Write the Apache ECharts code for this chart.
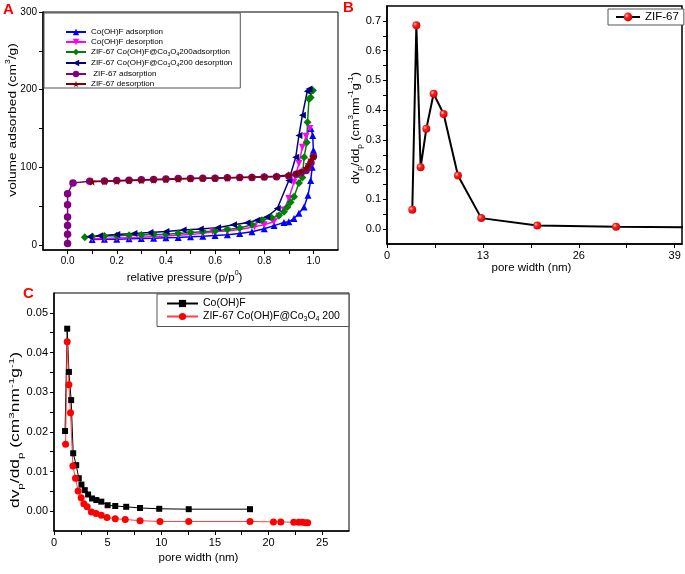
<!DOCTYPE html>
<html><head><meta charset="utf-8">
<script src="https://cdn.jsdelivr.net/npm/echarts@6/dist/echarts.min.js"></script>
<style>html,body{margin:0;padding:0;background:#fff;}#c{width:685px;height:574px;}</style>
</head><body><div id="c"></div>
<script>
// ---------- Panel A: isotherms (relative pressure p/p0, volume cm3/g) ----------
const aCoohfAdsP = [0.1,0.15,0.2,0.25,0.3,0.35,0.4,0.45,0.5,0.55,0.6,0.65,0.7,0.75,0.8,0.84,0.88,0.9,0.921,0.941,0.962,0.978,0.989,0.995,1.0,0.997,0.99];
const aCoohfAdsV = [7,7.3,7.6,8,8.4,8.8,9.3,9.8,10.5,11.3,12.2,13.3,14.8,17,21,25,29,30,34,41,49,64,83,100,122,141,150];
const aCoohfDesP = [0.985,0.97,0.955,0.941,0.921,0.9,0.88,0.86,0.839,0.8,0.76,0.7,0.65,0.59,0.55,0.5,0.45,0.4,0.35,0.3,0.25,0.2,0.15,0.1];
const aCoohfDesV = [150,140,126,105,81,60,45,37,30,26,23.5,20,18,17,15,13.5,12.5,11.5,11,10,9.5,9,8.5,8];
const aCompAdsP = [0.07,0.1,0.15,0.2,0.25,0.3,0.35,0.4,0.45,0.5,0.55,0.6,0.65,0.7,0.75,0.79,0.83,0.86,0.88,0.894,0.907,0.921,0.941,0.955,0.962,0.973,0.976,0.982,0.989,0.998];
const aCompAdsV = [10,11,11.5,12,12.5,13,13.5,14,15,16,17,18,20,22,26,32,35,38,43,49,55,62,80,87,113,132,158,188,190,199];
const aCompDesP = [0.982,0.975,0.955,0.941,0.928,0.9,0.853,0.81,0.77,0.73,0.675,0.61,0.54,0.47,0.4,0.335,0.27,0.2,0.13,0.09];
const aCompDesV = [201,198,167,141,113,83,47,36,32,28.6,26,22.2,20.5,19.2,17.5,16.2,15,13.7,12,10.6];
const aZifAdsP = [0,0,0,0,0,0,0.022,0.09,0.15,0.2,0.25,0.3,0.35,0.4,0.45,0.5,0.55,0.6,0.65,0.7,0.75,0.8,0.85,0.9,0.93,0.95,0.97,0.98,0.99,1.0];
const aZifAdsV = [2,14,25,36,52,66,80,82,82.5,83,83.5,84,84.5,85,85.5,85.5,86,86,86.5,87,87,87.5,88,89,91,93,96,100,106,114];
const aZifDesP = [1.0,0.99,0.98,0.97,0.95,0.93,0.9,0.85,0.8,0.75,0.7,0.65,0.6,0.55,0.5,0.45,0.4,0.35,0.3,0.25,0.2,0.15,0.1];
const aZifDesV = [114,110,104,99,95,92,90,88.5,88,87.5,87,86.5,86,86,85.5,85,84.5,84,83.5,83,82.5,82,81.5];
const aXTicks = [0,0.1,0.2,0.3,0.4,0.5,0.6,0.7,0.8,0.9,1.0];
const aXLabels = [0,0.2,0.4,0.6,0.8,1.0];
const aYTicks = [0,50,100,150,200,250,300];
const aYLabels = [0,100,200,300];

// ---------- Panel B: ZIF-67 pore size distribution ----------
const bWidth = [3.43,3.98,4.56,5.33,6.32,7.68,9.62,12.78,20.37,31.06,45];
const bDv = [0.065,0.685,0.208,0.337,0.455,0.387,0.180,0.037,0.012,0.008,0.006];
const bXTicks = [0,6.5,13,19.5,26,32.5,39];
const bXLabels = [0,13,26,39];
const bYTicks = [0,0.05,0.1,0.15,0.2,0.25,0.3,0.35,0.4,0.45,0.5,0.55,0.6,0.65,0.7];
const bYLabels = [0,0.1,0.2,0.3,0.4,0.5,0.6,0.7];

// ---------- Panel C: pore size distributions ----------
const cCoohfW = [1.03,1.23,1.39,1.6,1.79,2.07,2.31,2.56,2.87,3.18,3.55,3.95,4.41,5.0,5.71,6.73,8.02,9.81,12.56,18.27];
const cCoohfDv = [0.0202,0.0460,0.0351,0.0280,0.0146,0.0116,0.0083,0.0067,0.0053,0.0042,0.0032,0.0028,0.0024,0.0015,0.0013,0.0011,0.0008,0.0006,0.0005,0.0005];
const cCompW = [1.08,1.23,1.39,1.54,1.76,2.0,2.25,2.53,2.78,3.09,3.49,3.92,4.41,4.94,5.71,6.64,8.02,9.88,12.56,18.27,20.46,21.14,22.35,22.8,23.15,23.45,23.65];
const cCompDv = [0.0169,0.0427,0.0319,0.0248,0.0114,0.0083,0.0051,0.0034,0.0019,0.0011,-0.0002,-0.0006,-0.0010,-0.0016,-0.0019,-0.0021,-0.0024,-0.0026,-0.0026,-0.0026,-0.0027,-0.0027,-0.0028,-0.0028,-0.0028,-0.0029,-0.0029];
const cXTicks = [0,2.5,5,7.5,10,12.5,15,17.5,20,22.5,25];
const cXLabels = [0,5,10,15,20,25];
const cYTicks = [0,0.005,0.01,0.015,0.02,0.025,0.03,0.035,0.04,0.045,0.05];
const cYLabels = [0,0.01,0.02,0.03,0.04,0.05];

const FF = 'Liberation Sans, Arial, sans-serif';
function pairs(xs, ys) { return xs.map((x, i) => [x, ys[i]]); }
function rich(s) {
  const sm = Math.round(s * 0.65);
  return {
    n: {fontSize: s, fontFamily: FF, color: '#000', lineHeight: s + 5},
    sup: {fontSize: sm, fontFamily: FF, color: '#000', verticalAlign: 'top'},
    sub: {fontSize: sm, fontFamily: FF, color: '#000', verticalAlign: 'bottom'}
  };
}
function axis(grid, min, max, ticks, labels, fmt, fs, extra) {
  return Object.assign({
    type: 'value', gridIndex: grid, min: min, max: max,
    axisLine: {show: true, onZero: false, lineStyle: {color: '#000', width: 1.5}},
    axisTick: {show: true, customValues: ticks, length: 4, lineStyle: {color: '#000', width: 1}},
    axisLabel: {customValues: labels, formatter: fmt, color: '#000', fontSize: fs, fontFamily: FF, margin: 6},
    splitLine: {show: false}
  }, extra || {});
}
const star = 'path://M0,-10L2.35,-3.24L9.51,-3.09L3.8,1.24L5.88,8.09L0,4L-5.88,8.09L-3.8,1.24L-9.51,-3.09L-2.35,-3.24Z';
function lineSer(name, x, y, grid, color, symbol, size, rot, lw) {
  return {
    type: 'line', name: name, xAxisIndex: grid, yAxisIndex: grid,
    data: pairs(x, y), symbol: symbol, symbolSize: size, symbolRotate: rot || 0,
    showSymbol: true, animation: false,
    lineStyle: {color: color, width: lw || 1.5},
    itemStyle: {color: color}
  };
}
const redBall = {type: 'radial', x: 0.35, y: 0.35, r: 0.7,
  colorStops: [{offset: 0, color: '#ffd0d0'}, {offset: 0.35, color: '#ff2020'}, {offset: 1, color: '#d00000'}]};

const nA = ['Co(OH)F adsorption', 'Co(OH)F desorption', 'ZIF-67 Co(OH)F@Co3O4200adsorption', 'ZIF-67 Co(OH)F@Co3O4200 desorption', ' ZIF-67 adsorption', 'ZIF-67 desorption'];
const nC = ['Co(OH)F', 'ZIF-67 Co(OH)F@Co3O4 200'];
const legendFmt = {
  'ZIF-67 Co(OH)F@Co3O4200adsorption': '{n|ZIF-67 Co(OH)F@Co}{sub|3}{n|O}{sub|4}{n|200adsorption}',
  'ZIF-67 Co(OH)F@Co3O4200 desorption': '{n|ZIF-67 Co(OH)F@Co}{sub|3}{n|O}{sub|4}{n|200 desorption}',
  'ZIF-67 Co(OH)F@Co3O4 200': '{n|ZIF-67 Co(OH)F@Co}{sub|3}{n|O}{sub|4}{n| 200}'
};
function fmtLegend(name) { return legendFmt[name] || ('{n|' + name + '}'); }
function richL(s, lh) {
  const r = rich(s); r.n.lineHeight = lh; return r;
}

const chart = echarts.init(document.getElementById('c'), null, {renderer: 'canvas'});
chart.setOption({
  animation: false,
  backgroundColor: '#fff',
  grid: [
    {left: 43, top: 12, width: 295, height: 238, show: true, borderColor: '#000', borderWidth: 1, backgroundColor: 'transparent'},
    {left: 387, top: 6, width: 295, height: 238, show: true, borderColor: '#000', borderWidth: 1.5, backgroundColor: 'transparent'},
    {left: 54, top: 293, width: 295, height: 238, show: true, borderColor: '#000', borderWidth: 1, backgroundColor: 'transparent'}
  ],
  xAxis: [
    axis(0, -0.1, 1.1, aXTicks, aXLabels, v => v.toFixed(1), 10,
      {name: '{n|relative pressure (p/p}{sup|0}{n|)}', nameLocation: 'middle', nameGap: 20,
       nameTextStyle: {rich: rich(11.5), padding: [0, 12, 0, 0]}}),
    axis(1, 0, 40, bXTicks, bXLabels, v => String(v), 11,
      {name: '{n|pore width (nm)}', nameLocation: 'middle', nameGap: 16,
       nameTextStyle: {rich: rich(11.5), padding: [0, 6, 0, 0]}}),
    axis(2, 0, 27.5, cXTicks, cXLabels, v => String(v), 11,
      {name: '{n|pore width (nm)}', nameLocation: 'middle', nameGap: 19,
       nameTextStyle: {rich: rich(11.5), padding: [0, 6, 0, 0]}})
  ],
  yAxis: [
    axis(0, -6.4, 300, aYTicks, aYLabels, v => String(v), 10),
    axis(1, -0.05, 0.75, bYTicks, bYLabels, v => v.toFixed(1), 11),
    axis(2, -0.005, 0.055, cYTicks, cYLabels, v => v.toFixed(2), 11)
  ],
  legend: [
    {left: 44, top: 13, orient: 'vertical', data: nA, itemWidth: 20, itemHeight: 8, itemGap: 2,
     padding: [15, 8, 0, 21], borderColor: '#555', borderWidth: 1, backgroundColor: '#fff',
     formatter: fmtLegend, textStyle: {rich: richL(8, 10), fontSize: 8, fontFamily: FF, color: '#000'}},
    {left: 608, top: 9, orient: 'vertical', data: ['ZIF-67'], itemWidth: 24, itemHeight: 11,
     padding: [2, 5, 2, 7], borderColor: '#555', borderWidth: 1, backgroundColor: '#fff',
     formatter: fmtLegend, textStyle: {rich: richL(11.5, 12), fontSize: 11.5, fontFamily: FF, color: '#000'}},
    {left: 157, top: 294, orient: 'vertical', data: nC, itemWidth: 31, itemHeight: 9, itemGap: 2,
     padding: [4, 9, 4, 9], borderColor: '#555', borderWidth: 1, backgroundColor: '#fff',
     formatter: fmtLegend, textStyle: {rich: richL(10.5, 12), fontSize: 10.5, fontFamily: FF, color: '#000'}}
  ],
  series: [
    lineSer(nA[0], aCoohfAdsP, aCoohfAdsV, 0, '#0000ff', 'triangle', 7),
    lineSer(nA[1], aCoohfDesP, aCoohfDesV, 0, '#ff00ff', 'triangle', 7, 180),
    lineSer(nA[2], aCompAdsP, aCompAdsV, 0, '#008000', 'diamond', 8),
    lineSer(nA[3], aCompDesP, aCompDesV, 0, '#000080', 'triangle', 7, 90),
    lineSer(nA[4], aZifAdsP, aZifAdsV, 0, '#800080', 'circle', 7.5),
    lineSer(nA[5], aZifDesP, aZifDesV, 0, '#800000', star, 8),
    Object.assign(lineSer('ZIF-67', bWidth, bDv, 1, '#000', 'circle', 8, 0, 2), {itemStyle: {color: redBall}}),
    lineSer(nC[0], cCoohfW, cCoohfDv, 2, '#000', 'rect', 6, 0, 1),
    Object.assign(lineSer(nC[1], cCompW, cCompDv, 2, '#ff0000', 'circle', 7, 0, 1), {lineStyle: {color: '#ff4040', width: 1}})
  ],
  graphic: [
    {type: 'text', left: 3, top: 2, style: {text: 'A', font: 'bold 15px Liberation Sans', fill: '#ff0000'}},
    {type: 'text', left: 343, top: 0, style: {text: 'B', font: 'bold 15px Liberation Sans', fill: '#ff0000'}},
    {type: 'text', left: 23, top: 286, style: {text: 'C', font: 'bold 15px Liberation Sans', fill: '#ff0000'}},
    {type: 'text', x: 13, y: 120, rotation: Math.PI / 2, scaleX: 1.2,
     style: {text: '{n|volume adsorbed (cm}{sup|3}{n|/g)}', rich: rich(11.5), align: 'center', verticalAlign: 'middle'}},
    {type: 'text', x: 356, y: 128, rotation: Math.PI / 2, scaleX: 1.15,
     style: {text: '{n|dv}{sub|p}{n|/dd}{sub|p}{n| (cm}{sup|3}{n|nm}{sup|-1}{n|g}{sup|-1}{n|)}', rich: rich(11), align: 'center', verticalAlign: 'middle'}},
    {type: 'text', x: 16, y: 430, rotation: Math.PI / 2, scaleX: 1.45,
     style: {text: '{n|dv}{sub|p}{n|/dd}{sub|p}{n| (cm}{sup|3}{n|nm}{sup|-1}{n|g}{sup|-1}{n|)}', rich: rich(12), align: 'center', verticalAlign: 'middle'}}
  ]
});
</script>
</body></html>
